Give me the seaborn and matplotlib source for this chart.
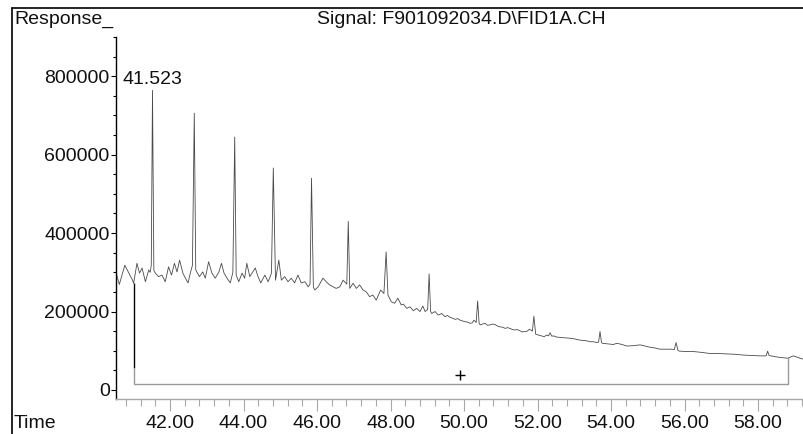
import matplotlib
matplotlib.use("Agg")
import matplotlib.pyplot as plt
from matplotlib.lines import Line2D
from matplotlib.ticker import MultipleLocator, FixedLocator, NullFormatter
import seaborn as sns
import pandas as pd

# FID chromatogram trace (retention time in min, detector response)
time_min = [
    40.53, 40.62, 40.77, 40.88, 40.98, 41.01, 41.10, 41.17, 41.24, 41.33,
    41.42, 41.46, 41.49, 41.523, 41.56, 41.60, 41.69, 41.78, 41.87, 41.96,
    42.04, 42.12, 42.19, 42.26, 42.35, 42.42, 42.49, 42.56, 42.61, 42.66,
    42.70, 42.80, 42.89, 42.96, 43.05, 43.14, 43.23, 43.33, 43.40, 43.47,
    43.55, 43.64, 43.71, 43.76, 43.80, 43.87, 43.96, 44.03, 44.09, 44.17,
    44.25, 44.32, 44.39, 44.47, 44.58, 44.67, 44.76, 44.81, 44.87, 44.96,
    45.03, 45.12, 45.21, 45.30, 45.39, 45.48, 45.57, 45.67, 45.76, 45.81,
    45.85, 45.90, 45.94, 46.03, 46.16, 46.25, 46.34, 46.44, 46.52, 46.62,
    46.71, 46.81, 46.85, 46.89, 46.98, 47.07, 47.16, 47.25, 47.34, 47.43,
    47.52, 47.61, 47.73, 47.82, 47.88, 47.93, 48.02, 48.11, 48.20, 48.29,
    48.35, 48.44, 48.53, 48.62, 48.71, 48.80, 48.88, 48.94, 49.01, 49.05,
    49.09, 49.12, 49.21, 49.30, 49.39, 49.48, 49.55, 49.62, 49.69, 49.76,
    49.83, 49.89, 49.96, 50.03, 50.10, 50.16, 50.22, 50.27, 50.33, 50.37,
    50.41, 50.44, 50.50, 50.57, 50.64, 50.71, 50.78, 50.84, 50.91, 50.98,
    51.05, 51.12, 51.18, 51.25, 51.32, 51.39, 51.45, 51.52, 51.59, 51.66,
    51.72, 51.78, 51.86, 51.90, 51.95, 52.11, 52.18, 52.25, 52.30, 52.34,
    52.39, 52.43, 52.52, 52.61, 52.75, 52.88, 53.02, 53.16, 53.30, 53.43,
    53.52, 53.61, 53.66, 53.70, 53.74, 53.77, 53.87, 53.97, 54.06, 54.16,
    54.30, 54.43, 54.61, 54.79, 54.92, 55.06, 55.20, 55.33, 55.48, 55.65,
    55.72, 55.77, 55.82, 55.86, 56.05, 56.24, 56.45, 56.69, 56.90, 57.15,
    57.38, 57.60, 57.82, 58.05, 58.18, 58.22, 58.26, 58.30, 58.34, 58.59,
    58.81, 58.96, 59.14, 59.25,
]
response = [
    300000, 269000, 318000, 298000, 280000, 272000, 323000, 298000, 311000, 276000,
    306000, 300000, 318000, 764000, 305000, 298000, 289000, 293000, 276000, 314000,
    293000, 323000, 301000, 331000, 298000, 285000, 273000, 301000, 318000, 706000,
    306000, 289000, 301000, 285000, 327000, 298000, 285000, 301000, 323000, 298000,
    285000, 273000, 300000, 645000, 293000, 276000, 298000, 285000, 323000, 289000,
    301000, 311000, 290000, 273000, 293000, 276000, 298000, 566000, 280000, 331000,
    280000, 289000, 276000, 285000, 273000, 293000, 273000, 276000, 263000, 270000,
    540000, 262000, 255000, 263000, 285000, 276000, 268000, 263000, 259000, 263000,
    280000, 270000, 430000, 259000, 272000, 259000, 268000, 255000, 250000, 238000,
    242000, 229000, 255000, 246000, 352000, 242000, 225000, 221000, 234000, 217000,
    219000, 208000, 212000, 202000, 208000, 200000, 214000, 200000, 205000, 296000,
    200000, 195000, 200000, 191000, 195000, 187000, 190000, 185000, 183000, 180000,
    182000, 178000, 176000, 174000, 173000, 170000, 171000, 178000, 172000, 227000,
    170000, 166000, 168000, 170000, 165000, 166000, 168000, 167000, 163000, 161000,
    160000, 157000, 159000, 157000, 154000, 153000, 154000, 151000, 148000, 149000,
    150000, 155000, 150000, 188000, 142000, 138000, 136000, 140000, 138000, 146000,
    137000, 138000, 135000, 134000, 133000, 132000, 130000, 127000, 126000, 123000,
    123000, 121000, 122000, 149000, 121000, 119000, 118000, 117000, 116000, 119000,
    116000, 112000, 113000, 115000, 112000, 109000, 107000, 104000, 104000, 104000,
    103000, 121000, 101000, 99000, 98000, 98000, 96000, 93000, 93000, 92000,
    91000, 89000, 88000, 87000, 87000, 87000, 99000, 88000, 87000, 83000,
    81000, 87000, 81000, 78000,
]

# Labelled peak and integration event
peak_label_time = 41.523
peak_label_height = 764000
integration_start = 41.01
integration_end = 58.81
integration_baseline = 15000
integration_tick_low = 56000
midpoint_marker = (49.89, 38000)

x_major_ticks = [42.0, 44.0, 46.0, 48.0, 50.0, 52.0, 54.0, 56.0, 58.0]
x_tick_labels = ["42.00", "44.00", "46.00", "48.00", "50.00", "52.00", "54.00", "56.00", "58.00"]
y_major_ticks = [0, 200000, 400000, 600000, 800000]
y_tick_labels = ["0", "200000", "400000", "600000", "800000"]

title_text = "Signal: F901092034.D\\FID1A.CH"
y_title = "Response_"
x_title = "Time"

sns.set_style("white")
plt.rcParams["font.family"] = ["Liberation Sans", "DejaVu Sans"]

W, H = 804, 434
fig = plt.figure(figsize=(W / 100, H / 100), dpi=100)
ax = fig.add_axes([116 / W, (H - 399) / H, 1 - 116 / W, (399 - 37) / H])

trace = pd.DataFrame({"time": time_min, "response": response})
sns.lineplot(data=trace, x="time", y="response", ax=ax, estimator=None,
             sort=False, color="#4a4a4a", linewidth=0.6)

# integration baseline and event marks
start_sig = response[time_min.index(integration_start)]
end_sig = response[time_min.index(integration_end)]
ax.plot([integration_start, integration_start], [start_sig, integration_tick_low],
        color="black", linewidth=1.0, solid_capstyle="butt")
ax.plot([integration_start, integration_start, integration_end, integration_end],
        [integration_tick_low, integration_baseline, integration_baseline, end_sig],
        color="#9a9a9a", linewidth=1.0)
ax.plot([midpoint_marker[0]], [midpoint_marker[1]], marker="+", color="black",
        markersize=7, markeredgewidth=1.0, linestyle="none")

ax.text(peak_label_time, peak_label_height + 6000, f"{peak_label_time:.3f}",
        ha="center", va="bottom", fontsize=14, color="#111111")

ax.set_xlim(40.53, 59.25)
ax.set_ylim(-23000, 900000)
ax.set_xlabel("")
ax.set_ylabel("")

ax.xaxis.set_major_locator(FixedLocator(x_major_ticks))
ax.set_xticklabels(x_tick_labels)
ax.xaxis.set_minor_locator(MultipleLocator(0.4))
ax.yaxis.set_major_locator(FixedLocator(y_major_ticks))
ax.set_yticklabels(y_tick_labels)
ax.yaxis.set_minor_locator(MultipleLocator(50000))
ax.yaxis.set_minor_formatter(NullFormatter())

for side in ("top", "right"):
    ax.spines[side].set_visible(False)
ax.spines["left"].set_color("black")
ax.spines["left"].set_linewidth(1.0)
ax.spines["bottom"].set_color("#a8a8a8")
ax.spines["bottom"].set_linewidth(1.0)

ax.tick_params(axis="x", which="major", direction="out", length=8.5, width=0.8,
               color="#a8a8a8", labelsize=14, pad=3, labelcolor="#111111", bottom=True)
ax.tick_params(axis="x", which="minor", direction="out", length=5, width=0.8,
               color="#a8a8a8", bottom=True)
ax.tick_params(axis="y", which="major", direction="out", length=3.5, width=0.8,
               color="black", labelsize=14, pad=1, labelcolor="#111111", left=True)
ax.tick_params(axis="y", which="minor", direction="out", length=2, width=0.8,
               color="black", left=True)

# page frame and header texts
fig.add_artist(Line2D([12 / W, 12 / W], [0, 1 - 8 / H], color="black", linewidth=1.2))
fig.add_artist(Line2D([12 / W, 1], [1 - 8 / H, 1 - 8 / H], color="black", linewidth=1.2))
fig.text(14 / W, 1 - 19 / H, y_title, ha="left", va="center", fontsize=14, color="#111111")
fig.text(461 / W, 1 - 19 / H, title_text, ha="center", va="center", fontsize=14, color="#111111")
fig.text(14 / W, 1 - 423 / H, x_title, ha="left", va="center", fontsize=14, color="#111111")

fig.savefig("out.png", dpi=100)
